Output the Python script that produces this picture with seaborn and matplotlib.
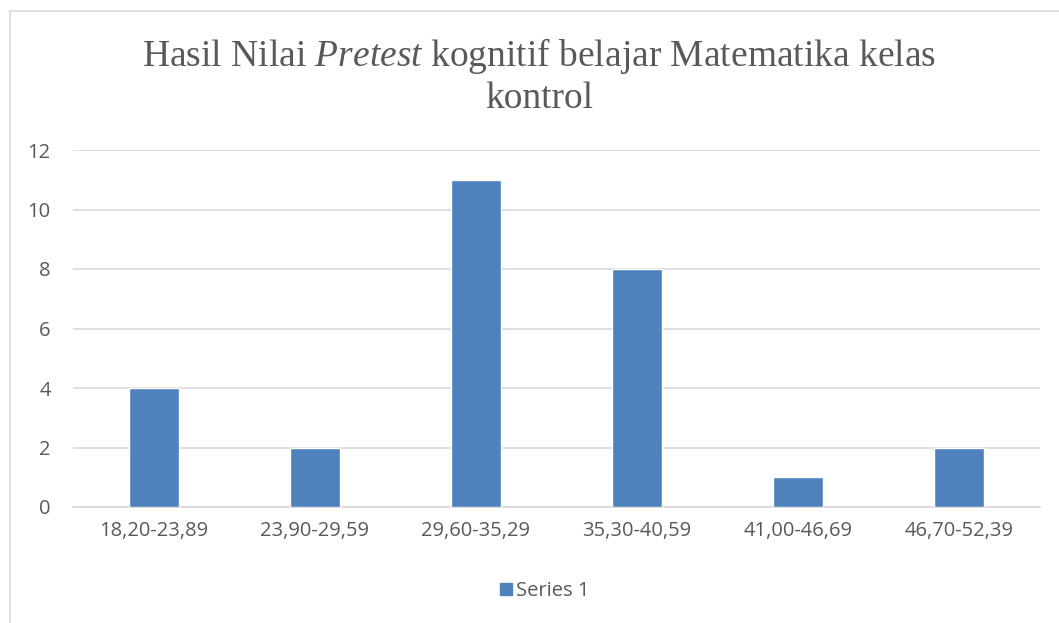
import matplotlib
matplotlib.use("Agg")
import matplotlib.pyplot as plt
import seaborn as sns
import pandas as pd
from matplotlib.patches import Rectangle

categories = ["18,20-23,89", "23,90-29,59", "29,60-35,29", "35,30-40,59", "41,00-46,69", "46,70-52,39"]
values = [4, 2, 11, 8, 1, 2]
series_name = "Series 1"
yticks = [0, 2, 4, 6, 8, 10, 12]

sns.set_theme(style="white")
plt.rcParams['font.family'] = ['Open Sans', 'DejaVu Sans']
plt.rcParams['mathtext.fontset'] = 'custom'
plt.rcParams['mathtext.rm'] = 'Liberation Serif'
plt.rcParams['mathtext.it'] = 'Liberation Serif:italic'

df = pd.DataFrame({"cat": categories, "val": values})

fig = plt.figure(figsize=(10.59, 6.23), dpi=100)
ax = fig.add_axes([73/1059, 1-507/623, (1040-73)/1059, (507-150)/623])

sns.barplot(data=df, x="cat", y="val", color="#4F81BD", saturation=1, width=0.31, ax=ax, zorder=3)
ax.set_ylim(0, 12)
ax.set_xlim(-0.5, len(categories)-0.5)
ax.set_yticks(yticks)
ax.yaxis.grid(True, color="#D9D9D9", linewidth=1.2, zorder=0)
ax.xaxis.grid(False)
for s in ["top", "right", "left"]:
    ax.spines[s].set_visible(False)
ax.spines["bottom"].set_color("#D9D9D9")
ax.spines["bottom"].set_linewidth(1.2)
ax.tick_params(axis="both", length=0, colors="#595959", labelsize=14.5)
ax.tick_params(axis="x", pad=10)
ax.tick_params(axis="y", pad=16)
ax.set_xlabel("")
ax.set_ylabel("")

fig.text(539/1059, 1-76/623, "Hasil Nilai $\\it{Pretest}$ kognitif belajar Matematika kelas\nkontrol",
         ha="center", va="center", fontsize=27, color="#595959", family="Liberation Serif",
         linespacing=1.2)

handle = Rectangle((0, 0), 1, 1, color="#4F81BD")
fig.legend([handle], [series_name], loc="center", bbox_to_anchor=(545/1059, 1-591/623),
           frameon=False, fontsize=14.5, handlelength=0.6, handleheight=0.6, handletextpad=0.2,
           labelcolor="#595959")

# chart border
fig.add_artist(plt.Line2D([10/1059, 10/1059], [0, 1-11/623], color="#D9D9D9", lw=1.2, transform=fig.transFigure))
fig.add_artist(plt.Line2D([10/1059, 1], [1-11/623, 1-11/623], color="#D9D9D9", lw=1.2, transform=fig.transFigure))

fig.savefig("out.png", dpi=100, facecolor="white")
